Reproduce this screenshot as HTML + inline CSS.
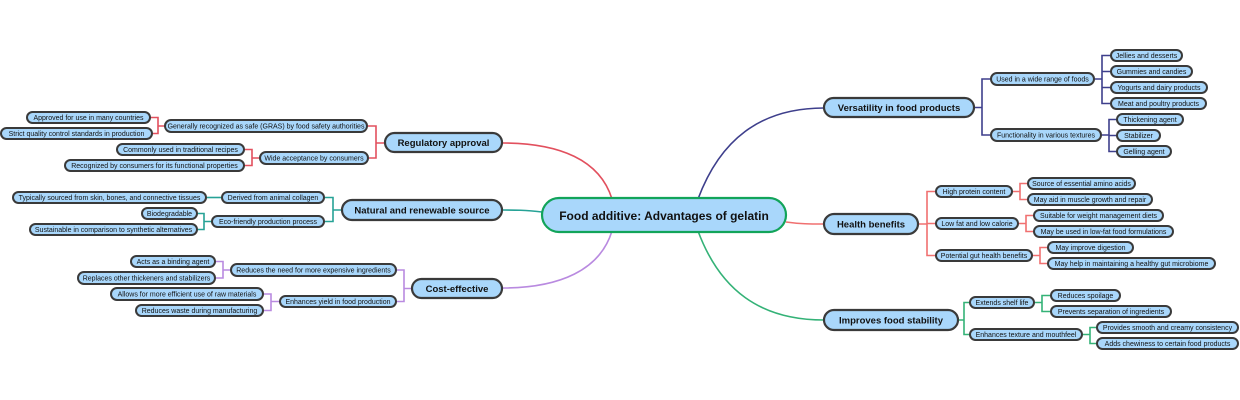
<!DOCTYPE html>
<html><head><meta charset="utf-8"><style>
html,body{margin:0;padding:0;background:#fff;}
svg{display:block;}
.n{fill:#a9d7fb;stroke:#3a3a3a;stroke-width:2;}
.m{fill:#a9d7fb;stroke:#3a3a3a;stroke-width:2.2;}
.t{font-family:"Liberation Sans",sans-serif;font-size:7px;fill:#111;text-anchor:middle;}
.tm{font-family:"Liberation Sans",sans-serif;font-size:9.5px;font-weight:bold;fill:#111;text-anchor:middle;}
path{fill:none;stroke-width:1.6;}
</style></head><body>
<svg width="1240" height="400" viewBox="0 0 1240 400" xmlns="http://www.w3.org/2000/svg">
<path d="M612 199 C600 160 560 143 502 143" stroke="#e2505e"/>
<path d="M542 212 C525 210 515 210 502 210" stroke="#26a296"/>
<path d="M612 231 C600 270 560 288 502 288" stroke="#b98ae0"/>
<path d="M698 199 C720 140 760 108 824 108" stroke="#3e3f8c"/>
<path d="M786 222 C800 224 810 224 824 224" stroke="#f07070"/>
<path d="M698 231 C720 290 760 320 824 320" stroke="#34b277"/>
<g stroke="#e2505e"><path d="M385 143 H376 M367 126 H376 V158 H368"/><path d="M165 126 H158 M150 117.5 H158 V133.5 H152"/><path d="M260 158 H252 M244 149.5 H252 V165.5 H244"/></g>
<g stroke="#26a296"><path d="M342 210 H333 M324 197.5 H333 V221.5 H324"/><path d="M222 197.5 H206"/><path d="M212 221.5 H204 M197 213.5 H204 V229.5 H197"/></g>
<g stroke="#b98ae0"><path d="M412 288.5 H404 M396 270 H404 V301.5 H396"/><path d="M231 270 H223 M215 261.5 H223 V278 H215"/><path d="M280 301.5 H271 M263 294 H271 V310.5 H263"/></g>
<g stroke="#3e3f8c"><path d="M974 107.5 H982 M991 79 H982 V135 H991"/><path d="M1094 79 H1102 M1111 55.5 H1102 V103.5 H1111 M1102 71.5 H1111 M1102 87.5 H1111"/><path d="M1101 135 H1109 M1117 119.5 H1109 V151.5 H1117 M1109 135.5 H1117"/></g>
<g stroke="#f07070"><path d="M918 224 H927 M936 191.5 H927 V255.5 H936 M927 223.5 H936"/><path d="M1012 191.5 H1020 M1028 183.5 H1020 V199.5 H1028"/><path d="M1018 223.5 H1026 M1034 215.5 H1026 V231.5 H1034"/><path d="M1032 255.5 H1040 M1048 247.5 H1040 V263.5 H1048"/></g>
<g stroke="#34b277"><path d="M958 320 H964 M970 302.5 H964 V334.5 H970"/><path d="M1034 302.5 H1042 M1051 295.5 H1042 V311.5 H1051"/><path d="M1082 334.5 H1090 M1097 327.5 H1090 V343.5 H1097"/></g>

<rect x="542" y="198" width="244" height="34" rx="17" fill="#a9d7fb" stroke="#12a45a" stroke-width="2.2"/>
<text x="664" y="220" font-family="Liberation Sans,sans-serif" font-size="12" font-weight="bold" text-anchor="middle" fill="#111">Food additive: Advantages of gelatin</text>

<rect class="m" x="385" y="133" width="117" height="19" rx="9.5"/><text class="tm" x="443.5" y="146">Regulatory approval</text>
<rect class="m" x="342" y="200" width="160" height="20" rx="10"/><text class="tm" x="422" y="213.5">Natural and renewable source</text>
<rect class="m" x="412" y="279" width="90" height="19" rx="9.5"/><text class="tm" x="457" y="292">Cost-effective</text>
<rect class="m" x="824" y="98" width="150" height="19" rx="9.5"/><text class="tm" x="899" y="111">Versatility in food products</text>
<rect class="m" x="824" y="214" width="94" height="20" rx="10"/><text class="tm" x="871" y="227.5">Health benefits</text>
<rect class="m" x="824" y="310" width="134" height="20" rx="10"/><text class="tm" x="891" y="323.5">Improves food stability</text>

<g>
<rect class="n" x="165" y="120" width="202" height="12" rx="6"/><text class="t" x="266" y="128.5">Generally recognized as safe (GRAS) by food safety authorities</text>
<rect class="n" x="27" y="112" width="123" height="11" rx="5.5"/><text class="t" x="88.5" y="120">Approved for use in many countries</text>
<rect class="n" x="1" y="128" width="151" height="11" rx="5.5"/><text class="t" x="76.5" y="136">Strict quality control standards in production</text>
<rect class="n" x="260" y="152" width="108" height="12" rx="6"/><text class="t" x="314" y="160.5">Wide acceptance by consumers</text>
<rect class="n" x="117" y="144" width="127" height="11" rx="5.5"/><text class="t" x="180.5" y="152">Commonly used in traditional recipes</text>
<rect class="n" x="65" y="160" width="179" height="11" rx="5.5"/><text class="t" x="154.5" y="168">Recognized by consumers for its functional properties</text>
<rect class="n" x="222" y="192" width="102" height="11" rx="5.5"/><text class="t" x="273" y="200">Derived from animal collagen</text>
<rect class="n" x="13" y="192" width="193" height="11" rx="5.5"/><text class="t" x="109.5" y="200">Typically sourced from skin, bones, and connective tissues</text>
<rect class="n" x="212" y="216" width="112" height="11" rx="5.5"/><text class="t" x="268" y="224">Eco-friendly production process</text>
<rect class="n" x="142" y="208" width="55" height="11" rx="5.5"/><text class="t" x="169.5" y="216">Biodegradable</text>
<rect class="n" x="30" y="224" width="167" height="11" rx="5.5"/><text class="t" x="113.5" y="232">Sustainable in comparison to synthetic alternatives</text>
<rect class="n" x="231" y="264" width="165" height="12" rx="6"/><text class="t" x="313.5" y="272.5">Reduces the need for more expensive ingredients</text>
<rect class="n" x="131" y="256" width="84" height="11" rx="5.5"/><text class="t" x="173" y="264">Acts as a binding agent</text>
<rect class="n" x="78" y="272" width="137" height="12" rx="6"/><text class="t" x="146.5" y="280.5">Replaces other thickeners and stabilizers</text>
<rect class="n" x="280" y="296" width="116" height="11" rx="5.5"/><text class="t" x="338" y="304">Enhances yield in food production</text>
<rect class="n" x="111" y="288" width="152" height="12" rx="6"/><text class="t" x="187" y="296.5">Allows for more efficient use of raw materials</text>
<rect class="n" x="136" y="305" width="127" height="11" rx="5.5"/><text class="t" x="199.5" y="313">Reduces waste during manufacturing</text>

<rect class="n" x="991" y="73" width="103" height="12" rx="6"/><text class="t" x="1042.5" y="81.5">Used in a wide range of foods</text>
<rect class="n" x="1111" y="50" width="71" height="11" rx="5.5"/><text class="t" x="1146.5" y="58">Jellies and desserts</text>
<rect class="n" x="1111" y="66" width="81" height="11" rx="5.5"/><text class="t" x="1151.5" y="74">Gummies and candies</text>
<rect class="n" x="1111" y="82" width="96" height="11" rx="5.5"/><text class="t" x="1159" y="90">Yogurts and dairy products</text>
<rect class="n" x="1111" y="98" width="95" height="11" rx="5.5"/><text class="t" x="1158.5" y="106">Meat and poultry products</text>
<rect class="n" x="991" y="129" width="110" height="12" rx="6"/><text class="t" x="1046" y="137.5">Functionality in various textures</text>
<rect class="n" x="1117" y="114" width="66" height="11" rx="5.5"/><text class="t" x="1150" y="122">Thickening agent</text>
<rect class="n" x="1117" y="130" width="43" height="11" rx="5.5"/><text class="t" x="1138.5" y="138">Stabilizer</text>
<rect class="n" x="1117" y="146" width="54" height="11" rx="5.5"/><text class="t" x="1144" y="154">Gelling agent</text>

<rect class="n" x="936" y="186" width="76" height="11" rx="5.5"/><text class="t" x="974" y="194">High protein content</text>
<rect class="n" x="1028" y="178" width="107" height="11" rx="5.5"/><text class="t" x="1081.5" y="186">Source of essential amino acids</text>
<rect class="n" x="1028" y="194" width="124" height="11" rx="5.5"/><text class="t" x="1090" y="202">May aid in muscle growth and repair</text>
<rect class="n" x="936" y="218" width="82" height="11" rx="5.5"/><text class="t" x="977" y="226">Low fat and low calorie</text>
<rect class="n" x="1034" y="210" width="129" height="11" rx="5.5"/><text class="t" x="1098.5" y="218">Suitable for weight management diets</text>
<rect class="n" x="1034" y="226" width="139" height="11" rx="5.5"/><text class="t" x="1103.5" y="234">May be used in low-fat food formulations</text>
<rect class="n" x="936" y="250" width="96" height="11" rx="5.5"/><text class="t" x="984" y="258">Potential gut health benefits</text>
<rect class="n" x="1048" y="242" width="85" height="11" rx="5.5"/><text class="t" x="1090.5" y="250">May improve digestion</text>
<rect class="n" x="1048" y="258" width="167" height="11" rx="5.5"/><text class="t" x="1131.5" y="266">May help in maintaining a healthy gut microbiome</text>

<rect class="n" x="970" y="297" width="64" height="11" rx="5.5"/><text class="t" x="1002" y="305">Extends shelf life</text>
<rect class="n" x="1051" y="290" width="69" height="11" rx="5.5"/><text class="t" x="1085.5" y="298">Reduces spoilage</text>
<rect class="n" x="1051" y="306" width="120" height="11" rx="5.5"/><text class="t" x="1111" y="314">Prevents separation of ingredients</text>
<rect class="n" x="970" y="329" width="112" height="11" rx="5.5"/><text class="t" x="1026" y="337">Enhances texture and mouthfeel</text>
<rect class="n" x="1097" y="322" width="141" height="11" rx="5.5"/><text class="t" x="1167.5" y="330">Provides smooth and creamy consistency</text>
<rect class="n" x="1097" y="338" width="141" height="11" rx="5.5"/><text class="t" x="1167.5" y="346">Adds chewiness to certain food products</text>
</g>
</svg>
</body></html>
